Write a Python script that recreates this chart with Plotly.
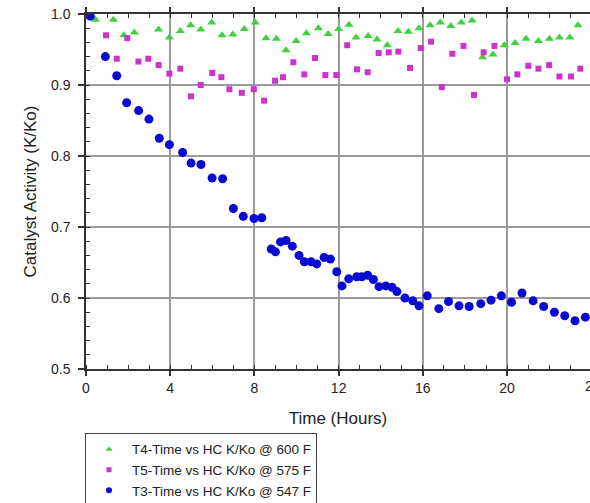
import plotly.graph_objects as go

# Catalyst activity (K/Ko) vs time on stream, three temperature runs
t4_time = [0, 0.45, 1.3, 1.8, 2.3, 3.45, 3.96, 4.48, 4.97, 5.45, 5.97, 6.46, 6.97, 7.52,
           8.04, 8.55, 9.04, 9.5, 9.98, 10.47, 11.04, 11.5, 12.0, 12.49, 12.83, 13.4, 13.82,
           14.31, 14.82, 15.31, 15.82, 16.34, 16.83, 17.33, 17.83, 18.34, 18.84, 19.33,
           19.87, 20.38, 20.9, 21.49, 22.01, 22.49, 22.98, 23.37]
t4_kko = [1.0, 0.992, 0.992, 0.970, 0.974, 0.978, 0.967, 0.976, 0.984, 0.978, 0.988, 0.970,
          0.971, 0.979, 0.988, 0.966, 0.965, 0.949, 0.962, 0.973, 0.980, 0.972, 0.979, 0.985,
          0.967, 0.969, 0.964, 0.956, 0.976, 0.975, 0.980, 0.984, 0.988, 0.983, 0.988, 0.991,
          0.939, 0.943, 0.956, 0.959, 0.965, 0.962, 0.965, 0.967, 0.967, 0.984]

t5_time = [0, 0.95, 1.46, 1.96, 2.49, 2.96, 3.45, 3.96, 4.48, 4.99, 5.45, 6.0, 6.43, 6.81,
           7.40, 7.97, 8.46, 8.98, 9.36, 9.85, 10.37, 10.88, 11.37, 11.89, 12.41, 12.87,
           13.38, 13.9, 14.38, 14.84, 15.39, 15.9, 16.39, 16.9, 17.4, 17.93, 18.43, 18.89,
           19.4, 20.0, 20.49, 21.01, 21.49, 22.0, 22.49, 23.04, 23.48]
t5_kko = [1.0, 0.970, 0.937, 0.966, 0.933, 0.937, 0.928, 0.916, 0.923, 0.884, 0.900, 0.917,
          0.911, 0.894, 0.889, 0.894, 0.878, 0.906, 0.911, 0.932, 0.915, 0.938, 0.914, 0.914,
          0.956, 0.922, 0.918, 0.945, 0.946, 0.947, 0.924, 0.952, 0.961, 0.897, 0.944, 0.955,
          0.886, 0.946, 0.955, 0.908, 0.915, 0.927, 0.923, 0.928, 0.912, 0.912, 0.923]

t3_time = [0, 0.2, 0.92, 1.46, 1.93, 2.5, 2.99, 3.48, 3.96, 4.59, 4.99, 5.46, 5.99, 6.49,
           7.0, 7.47, 7.98, 8.35, 8.8, 9.0, 9.24, 9.5, 9.8, 10.12, 10.37, 10.69, 10.96,
           11.31, 11.61, 11.91, 12.16, 12.48, 12.86, 13.10, 13.38, 13.65, 13.92, 14.24,
           14.54, 14.77, 15.15, 15.52, 15.82, 16.21, 16.76, 17.22, 17.72, 18.2, 18.75,
           19.24, 19.73, 20.21, 20.71, 21.24, 21.74, 22.25, 22.74, 23.23, 23.72]
t3_kko = [1.0, 0.997, 0.940, 0.913, 0.875, 0.864, 0.852, 0.825, 0.816, 0.805, 0.790, 0.788,
          0.769, 0.768, 0.726, 0.715, 0.712, 0.713, 0.669, 0.665, 0.679, 0.681, 0.673, 0.660,
          0.651, 0.651, 0.648, 0.657, 0.655, 0.637, 0.617, 0.627, 0.630, 0.630, 0.632, 0.626,
          0.616, 0.617, 0.615, 0.609, 0.600, 0.596, 0.589, 0.603, 0.585, 0.595, 0.589, 0.588,
          0.592, 0.597, 0.603, 0.594, 0.607, 0.596, 0.588, 0.580, 0.575, 0.568, 0.573]

series_names = ["T4-Time vs HC K/Ko @ 600 F",
                "T5-Time vs HC K/Ko @ 575 F",
                "T3-Time vs HC K/Ko @ 547 F"]

x_ticks = [0, 4, 8, 12, 16, 20, 24]
y_ticks = [0.5, 0.6, 0.7, 0.8, 0.9, 1.0]

FONT = "Liberation Sans, Arial, sans-serif"
TEXT = "#222222"

styles = [
    dict(symbol="triangle-up", size=8, color="#3fd23f"),
    dict(symbol="square", size=6, color="#cc33cc"),
    dict(symbol="circle", size=9, color="#0a0ad2"),
]
legend_sizes = [6, 5, 6]

fig = go.Figure()
for name, xs, ys, st in zip(series_names, [t4_time, t5_time, t3_time],
                            [t4_kko, t5_kko, t3_kko], styles):
    fig.add_trace(go.Scatter(x=xs, y=ys, mode="markers", name=name, marker=st,
                             legendgroup=name, showlegend=False))
# smaller symbols for the legend key
for name, st, ls in zip(series_names, styles, legend_sizes):
    fig.add_trace(go.Scatter(x=[None], y=[None], mode="markers", name=name,
                             legendgroup=name,
                             marker=dict(symbol=st["symbol"], color=st["color"], size=ls)))

fig.update_layout(
    width=590, height=503,
    margin=dict(l=86, r=0, t=14, b=134, autoexpand=False),
    paper_bgcolor="white", plot_bgcolor="white",
    font=dict(family=FONT, size=14, color=TEXT),
    showlegend=True,
    legend=dict(
        x=-0.002, y=-0.18, xanchor="left", yanchor="top",
        bordercolor="#444444", borderwidth=1, bgcolor="white",
        font=dict(family=FONT, size=13.5, color=TEXT),
        itemwidth=36, tracegroupgap=0,
    ),
)

fig.update_xaxes(
    range=[0, 23.94], tickvals=x_ticks, ticktext=[str(v) for v in x_ticks],
    showgrid=True, gridcolor="#9a9a9a", gridwidth=1.5, zeroline=False,
    showline=True, linecolor="#333333", linewidth=1.5, mirror="ticks",
    ticks="outside", ticklen=5, tickcolor="#333333", tickwidth=1.5,
    minor=dict(dtick=1, ticks="inside", ticklen=4, tickcolor="#333333",
               tickwidth=1, showgrid=False),
    title=dict(text="Time (Hours)", standoff=18),
)
fig.update_yaxes(
    range=[0.5, 1.0], tickvals=y_ticks, ticktext=[f"{v:.1f}" for v in y_ticks],
    showgrid=True, gridcolor="#9a9a9a", gridwidth=1.5, zeroline=False,
    showline=True, linecolor="#333333", linewidth=1.5, mirror=False,
    ticks="outside", ticklen=6, tickcolor="#333333", tickwidth=1.5,
    ticklabelstandoff=5,
    minor=dict(dtick=0.02, tick0=0.5, ticks="inside", ticklen=4, tickcolor="#333333",
               tickwidth=1, showgrid=False),
    title=dict(text="Catalyst Activity (K/Ko)", standoff=10),
)

# last major tick label sits right at the edge of the figure
fig.add_annotation(x=1.006, y=0, xref="paper", yref="paper", text="24", showarrow=False,
                   xanchor="center", yanchor="top", yshift=-7,
                   font=dict(family=FONT, size=14, color=TEXT))

fig.write_html("out.html")
